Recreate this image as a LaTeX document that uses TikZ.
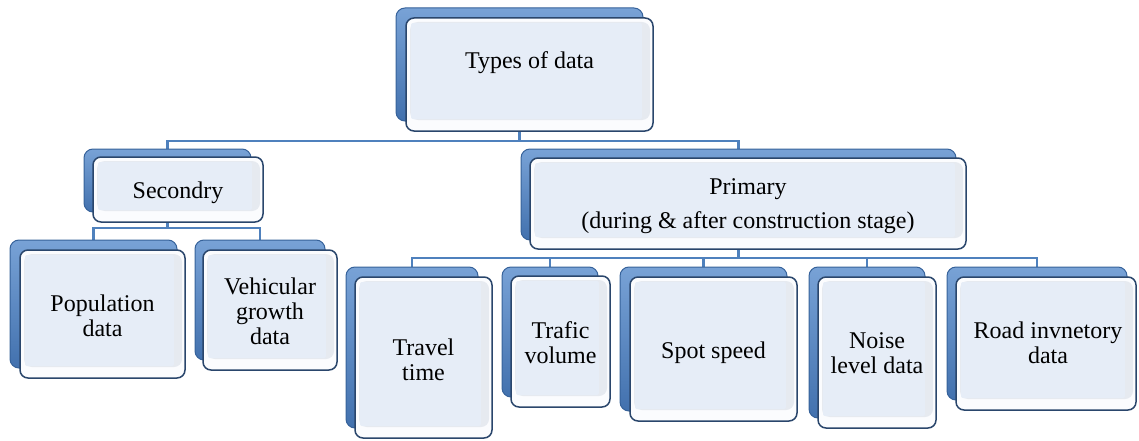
\documentclass[tikz,border=0pt]{standalone}
\usepackage{fontspec}
\setmainfont{Liberation Serif}
\newfontfamily\lserif{Liberation Serif}
\usetikzlibrary{calc,backgrounds}
\definecolor{conncol}{HTML}{4F81BD}
\definecolor{backtop}{HTML}{78A2D6}
\definecolor{backbot}{HTML}{4271AE}
\definecolor{backdraw}{HTML}{36629A}
\definecolor{frontdraw}{HTML}{2A466C}
\definecolor{faceblue}{HTML}{E6EDF7}
\definecolor{rimwhite}{HTML}{FBFCFE}
\definecolor{rimgray}{HTML}{E6EAF0}
\tikzset{
  backbox/.style={rectangle, rounded corners=9pt, draw=backdraw, line width=1pt,
    top color=backtop, bottom color=backbot, inner sep=0pt},
  frontbox/.style={rectangle, rounded corners=8pt, draw=frontdraw, line width=1.5pt,
    fill=rimwhite, inner sep=0pt,
    path picture={
      \fill[rimgray] ($(path picture bounding box.south west)+(4pt,11pt)$) rectangle
        ($(path picture bounding box.north east)+(-3pt,-4pt)$);
      \fill[faceblue, rounded corners=2pt] ($(path picture bounding box.south west)+(5pt,12pt)$) rectangle
        ($(path picture bounding box.north east)+(-11pt,-5pt)$);
    }},
  conn/.style={draw=conncol, line width=2.2pt},
  lbl/.style={font=\lserif\fontsize{24}{25}\selectfont, align=center, inner sep=0pt, text=black, anchor=north},
}
% name, front x1,y1,x2,y2, back x1,y1,x2,y2
\newcommand\dbox[9]{%
  \node[backbox, minimum width=#8pt-#6pt, minimum height=#9pt-#7pt] (#1-b) at ($(#6,#7)!0.5!(#8,#9)$) {};
  \node[frontbox, minimum width=#4pt-#2pt, minimum height=#5pt-#3pt] (#1) at ($(#2,#3)!0.5!(#4,#5)$) {};
}
\begin{document}
\begin{tikzpicture}[x=1pt, y=-1pt]
\useasboundingbox (0,0) rectangle (1139,441);

\dbox{types}{406}{18}{653}{131}{396}{8}{643}{121}
\dbox{sec}{93}{157}{263}{222}{84}{149}{251}{212}
\dbox{pri}{530}{158}{966}{249}{521}{149}{956}{240}
\dbox{pop}{20}{250}{185}{378}{10}{240}{177}{368}
\dbox{veh}{203}{250}{337}{370}{195}{240}{325}{360}
\dbox{trav}{355}{277}{492}{438}{346}{267}{478}{428}
\dbox{traf}{511}{276}{610}{407}{502}{267}{598}{397}
\dbox{spot}{630}{277}{797}{421}{620}{267}{787}{411}
\dbox{noise}{818}{277}{936}{428}{809}{267}{925}{418}
\dbox{road}{956}{277}{1136}{410}{947}{267}{1127}{400}

\node[lbl] (types-t) at (529.5,51) {Types of data};
\node[lbl] (sec-t) at (178,182) {Secondry};
\node[lbl] (pri-t) at (748,178) {Primary\\[9pt](during \& after construction stage)};
\node[lbl] (pop-t) at (102.5,295) {Population\\data};
\node[lbl] (veh-t) at (270,278) {Vehicular\\growth\\data};
\node[lbl] (trav-t) at (423.5,339) {Travel\\time};
\node[lbl] (traf-t) at (560.5,321) {Trafic\\volume};
\node[lbl] (spot-t) at (713.5,342) {Spot speed};
\node[lbl] (noise-t) at (877,332) {Noise\\level data};
\node[lbl] (road-t) at (1048,322) {Road invnetory\\data};

\coordinate (rail1) at (0,141);
\coordinate (rail2) at (0,228);
\coordinate (rail3) at (0,258);

\begin{pgfonlayer}{background}
\draw[conn] (types-b.south) -- (types-b.south |- rail1) -| (sec-b.north);
\draw[conn] (types-b.south |- rail1) -| (pri-b.north);
\draw[conn] (sec-b.south) -- (sec-b.south |- rail2) -| (pop-b.north);
\draw[conn] (sec-b.south |- rail2) -| (veh-b.north);
\draw[conn] (pri-b.south) -- (pri-b.south |- rail3) -| (trav-b.north);
\draw[conn] (pri-b.south |- rail3) -| (traf-b.north);
\draw[conn] (pri-b.south |- rail3) -| (spot-b.north);
\draw[conn] (pri-b.south |- rail3) -| (noise-b.north);
\draw[conn] (pri-b.south |- rail3) -| (road-b.north);
\end{pgfonlayer}
\end{tikzpicture}
\end{document}
